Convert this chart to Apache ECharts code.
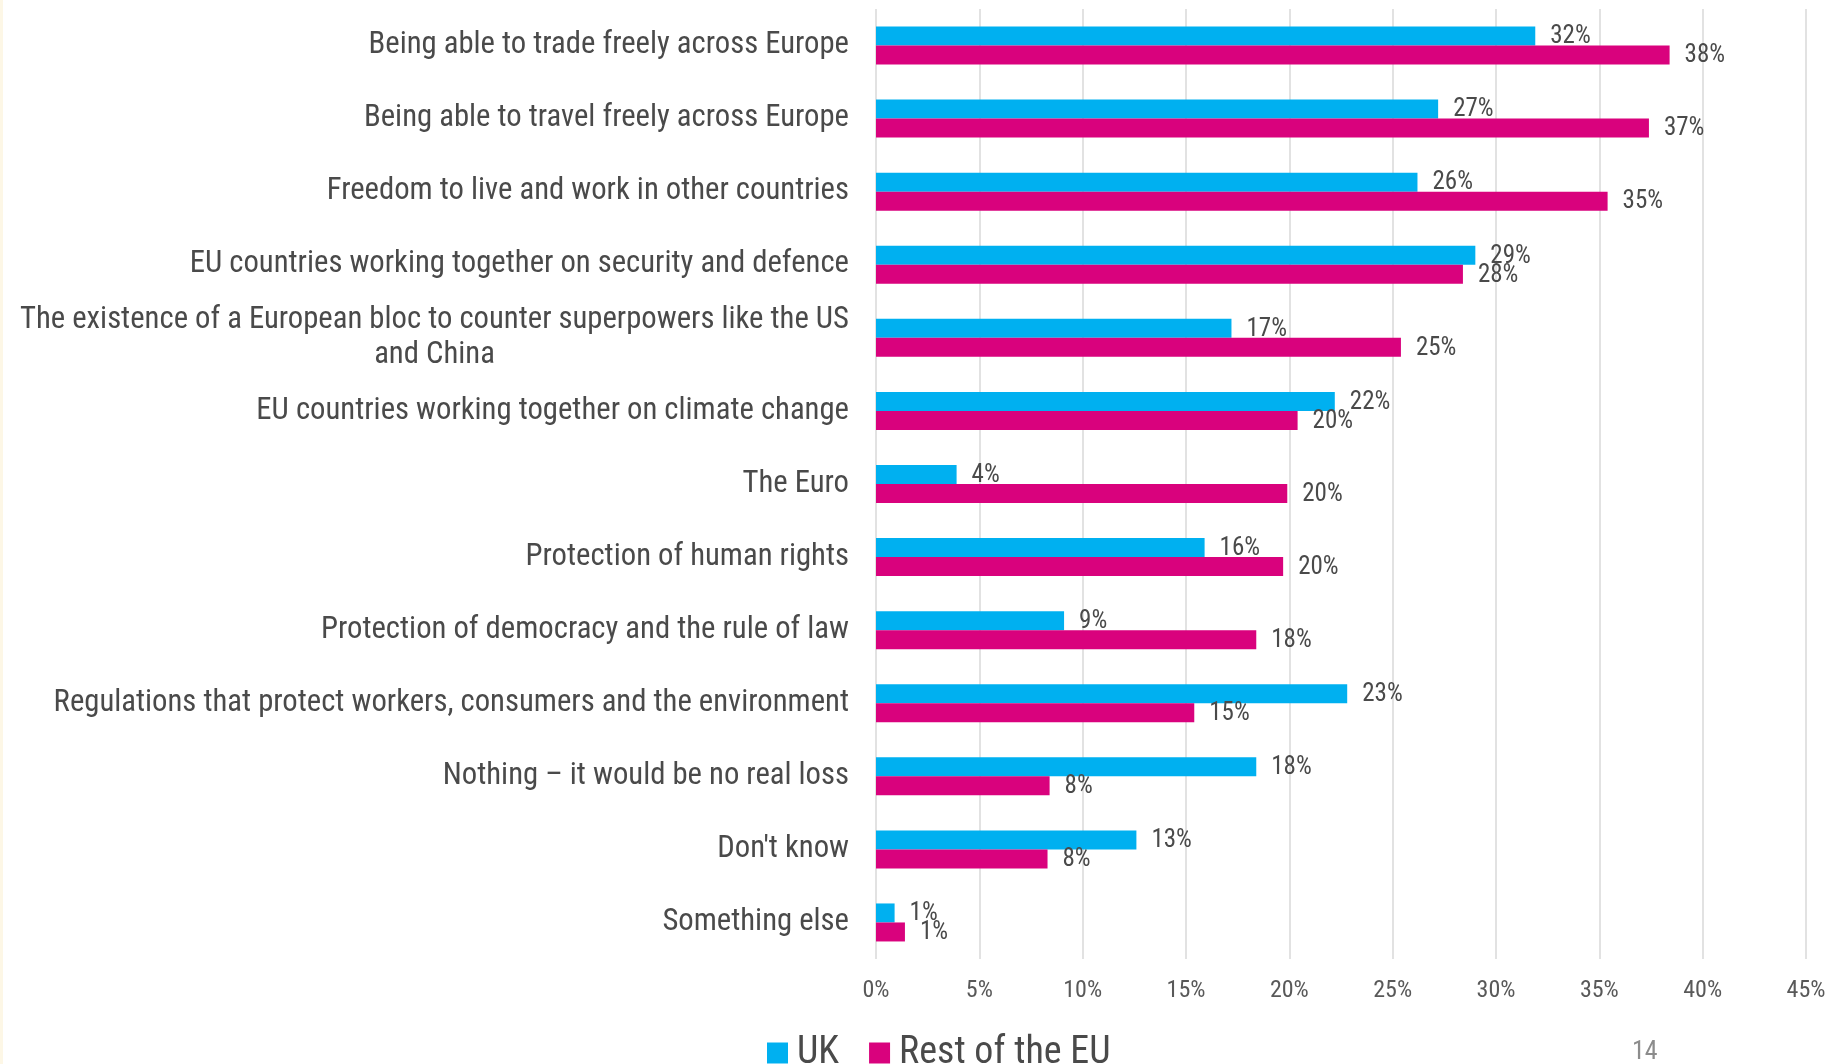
<!DOCTYPE html>
<html><head><meta charset="utf-8">
<script src="https://cdn.jsdelivr.net/npm/echarts@6/dist/echarts.min.js"></script>
<style>html,body{margin:0;padding:0;background:#fff}#c{width:1834px;height:1064px}</style>
</head><body><div id="c"></div>
<script>
const categories = [
  "Being able to trade freely across Europe",
  "Being able to travel freely across Europe",
  "Freedom to live and work in other countries",
  "EU countries working together on security and defence",
  "The existence of a European bloc to counter superpowers like the US\nand China",
  "EU countries working together on climate change",
  "The Euro",
  "Protection of human rights",
  "Protection of democracy and the rule of law",
  "Regulations that protect workers, consumers and the environment",
  "Nothing \u2013 it would be no real loss",
  "Don't know",
  "Something else"
];
const seriesNames = ["UK", "Rest of the EU"];
const ukValues = [31.9, 27.2, 26.2, 29.0, 17.2, 22.2, 3.9, 15.9, 9.1, 22.8, 18.4, 12.6, 0.9];
const euValues = [38.4, 37.4, 35.4, 28.4, 25.4, 20.4, 19.9, 19.7, 18.4, 15.4, 8.4, 8.3, 1.4];
const xTicks = { min: 0, max: 45, step: 5 };
const pageNumber = "14";

const FONT = '"Liberation Sans Narrow", "Arial Narrow", "Roboto Condensed", "DejaVu Sans Condensed", sans-serif';
const CAT_SIZE = 30.7;
const ctx = document.createElement('canvas').getContext('2d');
ctx.font = CAT_SIZE + 'px ' + FONT;

const chart = echarts.init(document.getElementById('c'), null, { renderer: 'canvas' });
const labelStyle = {
  show: true, position: 'right', distance: 15, offset: [0, 1],
  color: '#4a4a4a', fontSize: 25, fontFamily: FONT,
  formatter: p => Math.round(p.value) + '%'
};
let maxW = 0;
categories.forEach(v => { if (v.indexOf('\n') >= 0) v.split('\n').forEach(l => { maxW = Math.max(maxW, ctx.measureText(l).width); }); });

chart.setOption({
  backgroundColor: '#ffffff',
  animation: false,
  textStyle: { fontFamily: FONT },
  grid: { left: 876, right: 28, top: 9, height: 950, containLabel: false },
  xAxis: {
    type: 'value', min: xTicks.min, max: xTicks.max, interval: xTicks.step,
    axisLine: { show: false }, axisTick: { show: false },
    splitLine: { show: true, lineStyle: { color: '#d9d9d9', width: 1.5 } },
    axisLabel: { formatter: '{value}%', color: '#595959', fontSize: 24, fontFamily: FONT, margin: 20 }
  },
  yAxis: {
    type: 'category', data: categories, inverse: true,
    axisLine: { show: false }, axisTick: { show: false },
    axisLabel: {
      color: '#4a4a4a', fontSize: CAT_SIZE, fontFamily: FONT, margin: 27, lineHeight: 35,
      formatter: function (v) {
        if (v.indexOf('\n') < 0) return v;
        return v.split('\n').map(l => '{c|' + l + '}').join('\n');
      },
      rich: {
        c: { color: '#4a4a4a', fontSize: CAT_SIZE, fontFamily: FONT, lineHeight: 35, align: 'center', width: Math.ceil(maxW) }
      }
    }
  },
  legend: {
    data: seriesNames, left: 762, top: 1029, icon: 'rect',
    itemWidth: 21, itemHeight: 21, itemGap: 30,
    textStyle: { color: '#4a4a4a', fontSize: 38, fontFamily: FONT, padding: [0, 0, 4, 4] }
  },
  series: [
    { name: seriesNames[0], type: 'bar', data: ukValues, barWidth: 19, barGap: '0%',
      itemStyle: { color: '#00B0F0' }, label: labelStyle },
    { name: seriesNames[1], type: 'bar', data: euValues, barWidth: 19, barGap: '0%',
      itemStyle: { color: '#D9027D' }, label: labelStyle }
  ],
  graphic: [
    { type: 'rect', left: 0, top: 0, shape: { width: 3, height: 1064 }, style: { fill: '#fdf7e6' }, silent: true },
    { type: 'text', left: 1632, top: 1039, style: { text: pageNumber, fill: '#8c8c8c', fontSize: 26, fontFamily: FONT } }
  ]
});
</script></body></html>
